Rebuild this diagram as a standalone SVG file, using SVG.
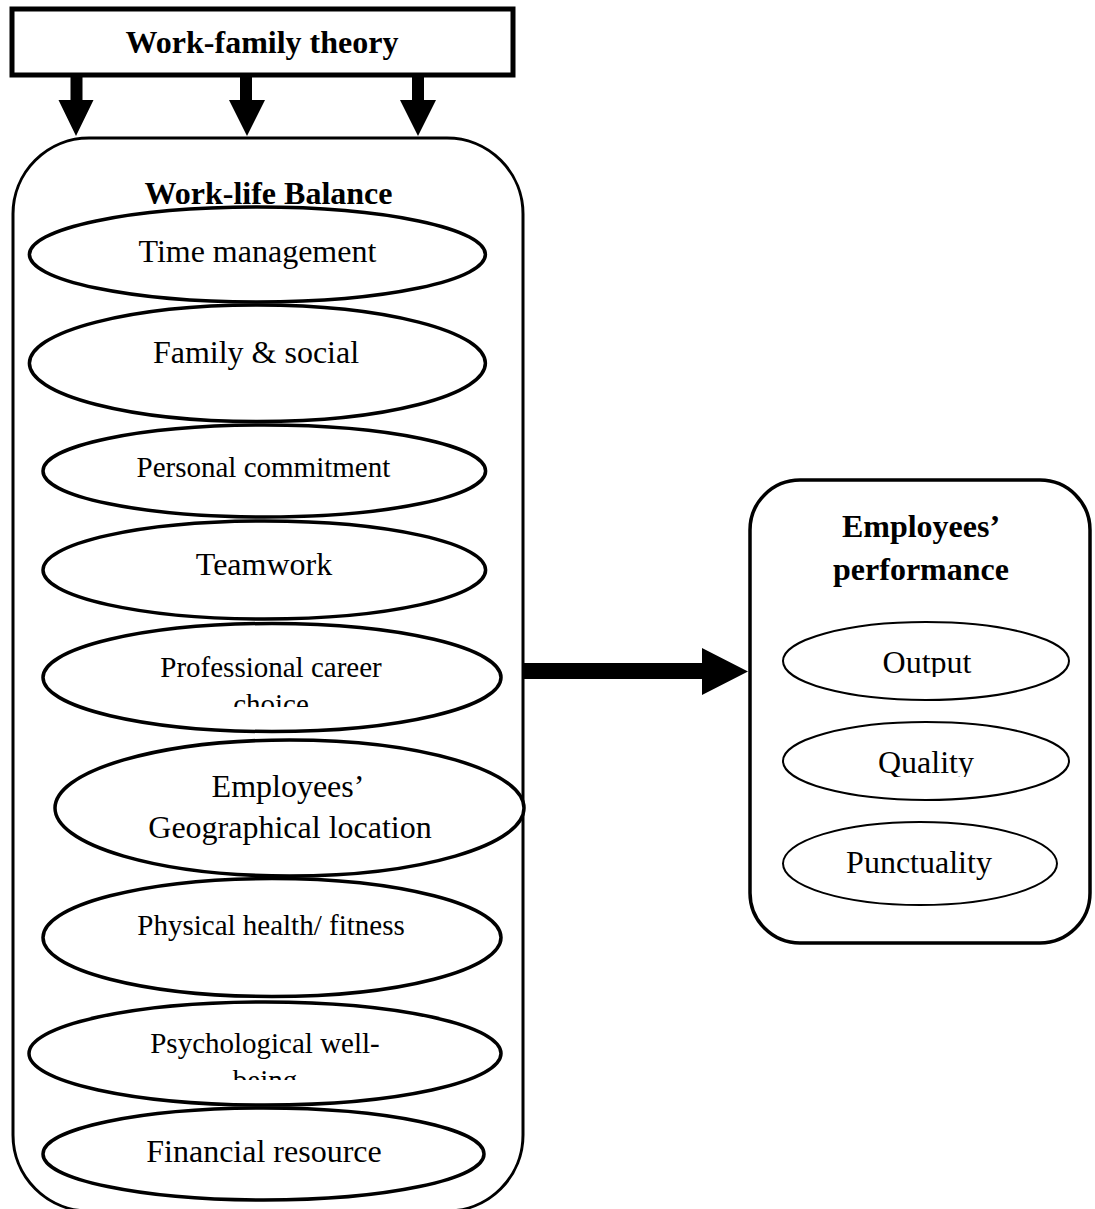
<svg xmlns="http://www.w3.org/2000/svg" width="1095" height="1209" viewBox="0 0 1095 1209">
<style>
  text { font-family: "Liberation Serif", "Times New Roman", serif; fill: #000; text-anchor: middle; }
  .b { font-weight: bold; font-size: 32px; }
  .t32 { font-size: 32px; }
  .t29 { font-size: 29px; }
  .el { fill: #fff; stroke: #000; stroke-width: 3.5; }
  .es { fill: #fff; stroke: #000; stroke-width: 2; }
  .arrow { fill: #000; stroke: none; }
</style>
<defs>
  <clipPath id="clipProf"><rect x="100" y="640" width="350" height="67"/></clipPath>
  <clipPath id="clipPsych"><rect x="100" y="1015" width="350" height="65"/></clipPath>
  <clipPath id="clipQual"><rect x="800" y="730" width="250" height="47"/></clipPath>
  <clipPath id="clipOut"><rect x="800" y="630" width="250" height="47"/></clipPath>
</defs>
<rect width="1095" height="1209" fill="#fff"/>

<g id="theory">
  <rect x="12" y="9" width="501" height="66" fill="#fff" stroke="#000" stroke-width="5"/>
  <text class="b" x="262" y="53">Work-family theory</text>
</g>

<g id="wlb">
  <rect x="13" y="138" width="510" height="1073" rx="76" ry="76" fill="#fff" stroke="#000" stroke-width="3"/>
  <text class="b" x="268.5" y="204">Work-life Balance</text>
</g>

<g id="time">
  <ellipse class="el" cx="257.4" cy="254.5" rx="228" ry="47.5"/>
  <text class="t32" x="257.4" y="261.7">Time management</text>
</g>
<g id="family">
  <ellipse class="el" cx="257.4" cy="363.3" rx="228" ry="58.3"/>
  <text class="t32" x="256" y="363.3">Family &amp; social</text>
</g>
<g id="personal">
  <ellipse class="el" cx="264.3" cy="471" rx="221.3" ry="46"/>
  <text class="t29" x="263.4" y="477">Personal commitment</text>
</g>
<g id="teamwork">
  <ellipse class="el" cx="264.3" cy="570" rx="221.3" ry="49"/>
  <text class="t32" x="264" y="575">Teamwork</text>
</g>
<g id="career">
  <ellipse class="el" cx="272" cy="677.5" rx="229" ry="54"/>
  <g clip-path="url(#clipProf)">
    <text class="t29" x="271" y="676.7">Professional career</text>
    <text class="t29" x="271" y="714">choice</text>
  </g>
</g>
<g id="location">
  <ellipse class="el" cx="289.5" cy="808" rx="234.5" ry="68"/>
  <text class="t32" x="288" y="796.7">Employees’</text>
  <text class="t32" x="290" y="838.3">Geographical location</text>
</g>
<g id="physical">
  <ellipse class="el" cx="272" cy="937.5" rx="229" ry="59"/>
  <text class="t29" x="271" y="935">Physical health/ fitness</text>
</g>
<g id="psych">
  <ellipse class="el" cx="265" cy="1053.5" rx="236" ry="51.5"/>
  <g clip-path="url(#clipPsych)">
    <text class="t29" x="265" y="1052.7">Psychological well-</text>
    <text class="t29" x="265" y="1090">being</text>
  </g>
</g>
<g id="financial">
  <ellipse class="el" cx="263.5" cy="1154" rx="220.5" ry="46"/>
  <text class="t32" x="264" y="1161.7">Financial resource</text>
</g>

<g id="performance">
  <rect x="750" y="480" width="340" height="463" rx="50" ry="50" fill="#fff" stroke="#000" stroke-width="3.5"/>
  <text class="b" x="921" y="537">Employees’</text>
  <text class="b" x="921" y="580">performance</text>
</g>
<g id="output">
  <ellipse class="es" cx="926" cy="661" rx="143" ry="39"/>
  <text class="t32" x="927" y="673" clip-path="url(#clipOut)">Output</text>
</g>
<g id="quality">
  <ellipse class="es" cx="926" cy="761" rx="143" ry="39"/>
  <text class="t32" x="926" y="773" clip-path="url(#clipQual)">Quality</text>
</g>
<g id="punctuality">
  <ellipse class="es" cx="920" cy="863.5" rx="137" ry="41.5"/>
  <text class="t32" x="919" y="873">Punctuality</text>
</g>

<g id="connectors">
  <polygon class="arrow" points="70.5,76 82.5,76 82.5,100 93.5,100 76,136 58.5,100 70.5,100"/>
  <polygon class="arrow" points="240,76 252,76 252,100 265,100 247,136 229,100 240,100"/>
  <polygon class="arrow" points="412,76 424,76 424,100 436,100 418,136 400,100 412,100"/>
  <polygon class="arrow" points="524,663 702,663 702,648 748,671.5 702,695 702,679 524,679"/>
</g>
</svg>
